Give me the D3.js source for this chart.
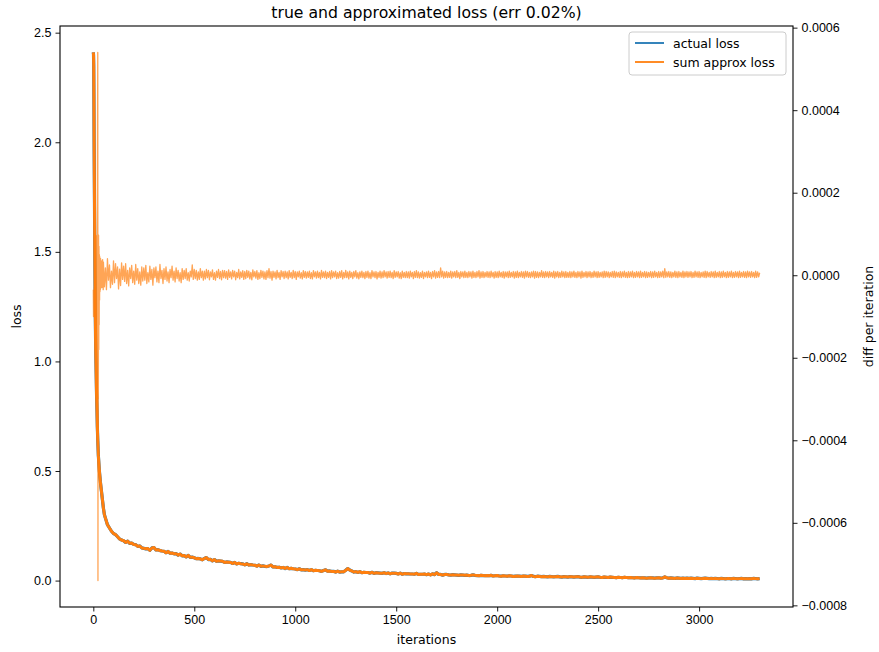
<!DOCTYPE html>
<html>
<head>
<meta charset="utf-8">
<script src="https://cdn.jsdelivr.net/npm/d3@7"></script>
<style>
  html, body { margin: 0; padding: 0; background: #fff; }
  svg { display: block; font-family: "DejaVu Sans", sans-serif; }
  .tick text { font-size: 12.5px; fill: #000; }
  .tick line { stroke: #000; stroke-width: 0.9; }
  .domain { display: none; }
</style>
</head>
<body>
<svg id="chart" width="879" height="652"></svg>
<script>
// ---- data ------------------------------------------------------------
// loss over the first iterations, [iteration, loss]
const lossHead = [
  [0, 2.41], [1, 2.40], [2, 2.35], [3, 2.20], [4, 2.00], [5, 1.85], [6, 1.70],
  [7, 1.55], [8, 1.42], [9, 1.30], [10, 1.20], [11, 1.12], [12, 1.05], [14, 0.95],
  [16, 0.85], [18, 0.78], [20, 0.70], [22, 0.64], [25, 0.57], [30, 0.50],
  [35, 0.45], [40, 0.41], [45, 0.37], [50, 0.33], [55, 0.30], [60, 0.285],
  [70, 0.255], [80, 0.240], [90, 0.225], [100, 0.215], [110, 0.210],
  [120, 0.200], [130, 0.190], [140, 0.185]
];
// loss from iteration 150 to 3300, every 10 iterations
const lossTailStart = 150, lossTailStep = 10;
const lossTail = [
  .182, .174, .180, .170, .171, .165, .164, .156, .158, .149,
  .147, .145, .146, .138, .149, .151, .140, .141, .137, .135,
  .134, .127, .133, .125, .126, .122, .123, .116, .121, .113,
  .114, .108, .115, .106, .107, .104, .100, .101, .099, .095,
  .101, .105, .096, .097, .090, .096, .088, .090, .089, .088,
  .083, .085, .084, .083, .078, .083, .076, .079, .077, .076,
  .072, .077, .071, .073, .071, .070, .066, .071, .065, .067,
  .065, .064, .067, .071, .062, .063, .060, .061, .058, .060,
  .055, .060, .054, .056, .054, .053, .050, .054, .049, .050,
  .048, .050, .046, .050, .045, .047, .046, .045, .042, .046,
  .049, .043, .044, .042, .042, .039, .043, .039, .040, .040,
  .047, .055, .048, .044, .039, .041, .037, .041, .036, .038,
  .037, .037, .034, .038, .033, .036, .035, .034, .033, .036,
  .032, .035, .031, .034, .034, .033, .030, .034, .029, .032,
  .031, .031, .030, .030, .029, .033, .028, .029, .029, .030,
  .027, .030, .026, .031, .027, .036, .028, .028, .025, .028,
  .028, .026, .025, .027, .026, .025, .024, .026, .025, .024,
  .025, .023, .024, .026, .024, .023, .022, .024, .023, .022,
  .023, .022, .024, .021, .022, .023, .021, .020, .022, .021,
  .020, .022, .021, .019, .020, .021, .020, .019, .021, .020,
  .019, .020, .023, .019, .018, .020, .019, .018, .019, .018,
  .017, .019, .018, .017, .018, .019, .017, .016, .018, .017,
  .016, .018, .017, .016, .017, .018, .016, .015, .017, .016,
  .015, .017, .016, .015, .016, .017, .015, .014, .016, .015,
  .014, .016, .015, .014, .013, .015, .014, .013, .015, .014,
  .013, .014, .013, .012, .014, .013, .012, .013, .012, .011,
  .012, .013, .012, .011, .012, .013, .011, .012, .017, .013,
  .011, .012, .011, .010, .012, .011, .010, .011, .010, .011,
  .010, .011, .010, .009, .011, .010, .009, .010, .011, .010,
  .009, .010, .009, .010, .009, .008, .010, .009, .008, .009,
  .009, .008, .010, .009, .008, .009, .010, .008, .009, .008,
  .009, .008, .010, .009, .008, .009
];

// per-iteration difference (in units of 1e-6), iterations 0..49
const diffHeadMicro = [
  -35, -100, -55, -85, -40, -70, -30, -60, -20, -50,
  90, -200, 60, -280, 95, -150, 40, -330, 97, -220,
  75, 367, 540, -740, 85, -300, 97, -180, 70, -120,
  50, -60, 45, -40, 30, -35, 40, -20, 30, -30,
  20, -25, 35, -30, 28, -20, 38, -15, 30, -35
];
// per-iteration difference (1e-6), iteration 50 to 3300 every 5
const diffTailStart = 50, diffTailStep = 5;
const diffTailMicro = [
  32, -28, 18, -35, 40, -12, 25, -30, 10, -22, 35, -18, 28, -8, 20, -33, 15, -25, 30, -10,
  22, -15, 28, -20, 12, -26, 18, -8, 24, -18, 10, -22, 26, -12, 16, -20, 8, -24, 20, -14,
  18, -12, 24, -20, 6, -16, 22, -10, 14, -24, 18, -6, 20, -16, 10, -18, 26, -8, 12, -20,
  16, -10, 20, -14, 8, -18, 14, -6, 22, -12, 10, -16, 18, -8, 12, -14, 6, -18, 16, -10,
  12, -8, 16, -12, 6, -14, 10, -4, 25, -10, 14, -8, 12, -12, 8, -10, 16, -6, 10, -12,
  10, -9, 14, -6, 12, -11, 8, -4, 13, -10, 6, -12, 10, -5, 14, -8, 9, -11, 12, -6,
  11, -7, 9, -10, 13, -5, 8, -9, 12, -4, 10, -11, 7, -6, 14, -9, 8, -5, 11, -10,
  9, -8, 12, -5, 10, -9, 7, -11, 13, -4, 9, -7, 11, -10, 6, -8, 12, -5, 10, -9,
  8, -10, 11, -6, 16, -7, 9, -12, 10, -5, 8, -9, 12, -6, 7, -10, 11, -4, 9, -8,
  10, -6, 8, -9, 11, -5, 7, -8, 12, -6, 9, -10, 8, -4, 10, -7, 6, -9, 11, -5,
  9, -7, 8, -5, 10, -8, 6, -9, 11, -4, 8, -7, 10, -6, 7, -9, 12, -5, 8, -6,
  10, -8, 7, -5, 9, -9, 11, -6, 8, -4, 10, -8, 6, -7, 9, -5, 11, -9, 7, -6,
  12, -6, 8, -9, 10, -5, 7, -8, 9, -4, 11, -7, 6, -9, 8, -5, 10, -6, 7, -8,
  9, -5, 10, -7, 6, -8, 11, -4, 8, -6, 9, -9, 7, -5, 10, -7, 8, -6, 11, -4,
  8, -7, 9, -5, 10, -6, 7, -8, 11, -5, 8, -4, 9, -7, 6, -8, 10, -5, 7, -6,
  9, -6, 8, -7, 10, -4, 7, -8, 9, -5, 11, -6, 8, -7, 6, -5, 10, -8, 7, -4,
  8, -6, 10, -5, 7, -8, 9, -4, 11, -7, 8, -5, 9, -6, 18, -4, 10, -7, 8, -5,
  9, -6, 7, -5, 10, -7, 8, -4, 9, -6, 11, -5, 7, -8, 9, -4, 8, -6, 10, -5,
  7, -6, 9, -4, 8, -7, 10, -5, 7, -6, 9, -4, 11, -7, 8, -5, 9, -6, 7, -4,
  9, -5, 8, -6, 10, -4, 7, -7, 9, -5, 8, -6, 10, -4, 7, -5, 9, -7, 8, -4,
  8, -6, 10, -5, 7, -4, 9, -7, 8, -5, 10, -6, 7, -4, 9, -5, 8, -7, 10, -4,
  9, -5, 7, -6, 8, -4, 10, -7, 9, -5, 8, -6, 7, -4, 11, -5, 8, -6, 9, -4,
  8, -6, 9, -4, 7, -5, 10, -7, 8, -4, 9, -6, 7, -5, 10, -4, 8, -6, 9, -5,
  7, -5, 9, -6, 8, -4, 10, -5, 7, -6, 9, -4, 8, -7, 10, -5, 7, -4, 9, -6,
  8, -4, 9, -6, 7, -5, 10, -4, 8, -6, 9, -5, 7, -4, 8, -6, 10, -5, 9, -4,
  8, -6, 7, -4, 9, -5, 10, -6, 8, -4, 7, -5, 9, -6, 8, -4, 10, -5, 7, -6,
  9, -5, 8, -4, 10, -6, 7, -5, 9, -4, 8, -6, 10, -5, 7, -4, 9, -6, 8, -5,
  7, -4, 9, -6, 8, -5, 10, -4, 7, -6, 9, -5, 8, -4, 10, -6, 16, -5, 8, -4,
  9, -5, 8, -6, 7, -4, 10, -5, 8, -6, 9, -4, 7, -5, 10, -6, 8, -4, 9, -5,
  8, -4, 9, -6, 7, -5, 10, -4, 8, -5, 9, -6, 7, -4, 8, -5, 10, -6, 9, -4,
  7, -5, 9, -4, 8, -6, 10, -5, 7, -4, 9, -6, 8, -5, 10, -4, 7, -6, 9, -5,
  8, -4, 10, -6, 7, -5, 9, -4, 8, -6, 10, -5, 7, -4, 9, -5, 8, -6, 10, -4,
  8, -5, 9, -4, 7, -6, 10, -5, 8, -4, 6
];

const xTicks = [0, 500, 1000, 1500, 2000, 2500, 3000];
const lossTicks = [0.0, 0.5, 1.0, 1.5, 2.0, 2.5];
const diffTicks = [-0.0008, -0.0006, -0.0004, -0.0002, 0.0, 0.0002, 0.0004, 0.0006];
const seriesNames = ["actual loss", "sum approx loss"];
const titleText = "true and approximated loss (err 0.02%)";

// ---- assemble series --------------------------------------------------
const lossPts = lossHead.concat(
  lossTail.map((v, i) => [lossTailStart + i * lossTailStep, v]));
// the approximation differs by 0.02% — indistinguishable at this scale
const actualLoss = lossPts;
const approxLoss = lossPts;
const diffPts = diffHeadMicro.map((v, i) => [i, v * 1e-6]).concat(
  diffTailMicro.map((v, i) => [diffTailStart + i * diffTailStep, v * 1e-6]));

// ---- layout -----------------------------------------------------------
const L = 60, R = 793, T = 26, B = 607;
const svg = d3.select("#chart");

const xExt = d3.extent(lossPts, d => d[0]);
const xPad = (xExt[1] - xExt[0]) * 0.05;
const x = d3.scaleLinear().domain([xExt[0] - xPad, xExt[1] + xPad]).range([L, R]);

const lMax = d3.max(lossPts, d => d[1]), lMin = 0;
const lPad = (lMax - lMin) * 0.05;
const yL = d3.scaleLinear().domain([lMin - lPad, lMax + lPad]).range([B, T]);

const dExt = d3.extent(diffPts, d => d[1]);
const dPad = (dExt[1] - dExt[0]) * 0.05;
const yR = d3.scaleLinear().domain([dExt[0] - dPad, dExt[1] + dPad]).range([B, T]);

const C0 = "#1f77b4", C1 = "#ff7f0e";

// clip to the plotting area
svg.append("defs").append("clipPath").attr("id", "plot")
  .append("rect").attr("x", L).attr("y", T).attr("width", R - L).attr("height", B - T);

const lineL = d3.line().x(d => x(d[0])).y(d => yL(d[1]));
const lineR = d3.line().x(d => x(d[0])).y(d => yR(d[1]));

const plot = svg.append("g").attr("clip-path", "url(#plot)");
plot.append("path").datum(actualLoss).attr("d", lineL)
  .attr("fill", "none").attr("stroke", C0).attr("stroke-width", 3.2)
  .attr("stroke-linejoin", "round");
plot.append("path").datum(approxLoss).attr("d", lineL)
  .attr("fill", "none").attr("stroke", C1).attr("stroke-width", 3)
  .attr("stroke-linejoin", "round");

// ---- axes -------------------------------------------------------------
const fmtR = v => (v < 0 ? "\u2212" : "") + Math.abs(v).toFixed(4);

svg.append("g").attr("transform", `translate(0,${B})`)
  .call(d3.axisBottom(x).tickValues(xTicks).tickSize(4.5).tickPadding(4).tickFormat(d3.format("d")));
svg.append("g").attr("transform", `translate(${L},0)`)
  .call(d3.axisLeft(yL).tickValues(lossTicks).tickSize(4.5).tickPadding(4).tickFormat(d3.format(".1f")));
svg.append("g").attr("transform", `translate(${R},0)`)
  .call(d3.axisRight(yR).tickValues(diffTicks).tickSize(4.5).tickPadding(4).tickFormat(fmtR));

// difference series on the secondary axis (drawn above the loss lines)
svg.append("g").attr("clip-path", "url(#plot)")
  .append("path").datum(diffPts).attr("d", lineR)
  .attr("fill", "none").attr("stroke", C1).attr("stroke-width", 1.3)
  .attr("stroke-opacity", 0.7).attr("stroke-linejoin", "round");

// frame
svg.append("rect").attr("x", L).attr("y", T).attr("width", R - L).attr("height", B - T)
  .attr("fill", "none").attr("stroke", "#000").attr("stroke-width", 1.1);

// ---- labels -----------------------------------------------------------
svg.append("text").attr("x", (L + R) / 2).attr("y", 18).attr("text-anchor", "middle")
  .attr("font-size", 15.7).text(titleText);
svg.append("text").attr("x", (L + R) / 2).attr("y", 644).attr("text-anchor", "middle")
  .attr("font-size", 12.5).text("iterations");
svg.append("text").attr("transform", `translate(21,${(T + B) / 2}) rotate(-90)`)
  .attr("text-anchor", "middle").attr("font-size", 12.5).text("loss");
svg.append("text").attr("transform", `translate(873,${(T + B) / 2}) rotate(-90)`)
  .attr("text-anchor", "middle").attr("font-size", 12.5).text("diff per iteration");

// ---- legend -----------------------------------------------------------
const lg = svg.append("g").attr("transform", "translate(629,32)");
lg.append("rect").attr("width", 157).attr("height", 43).attr("rx", 3)
  .attr("fill", "#fff").attr("fill-opacity", 0.8).attr("stroke", "#ccc");
[C0, C1].forEach((c, i) => {
  const yy = 11 + i * 19;
  lg.append("line").attr("x1", 6).attr("x2", 35).attr("y1", yy).attr("y2", yy)
    .attr("stroke", c).attr("stroke-width", 1.8);
  lg.append("text").attr("x", 44).attr("y", yy + 4.5).attr("font-size", 12.5)
    .text(seriesNames[i]);
});
</script>
</body>
</html>
